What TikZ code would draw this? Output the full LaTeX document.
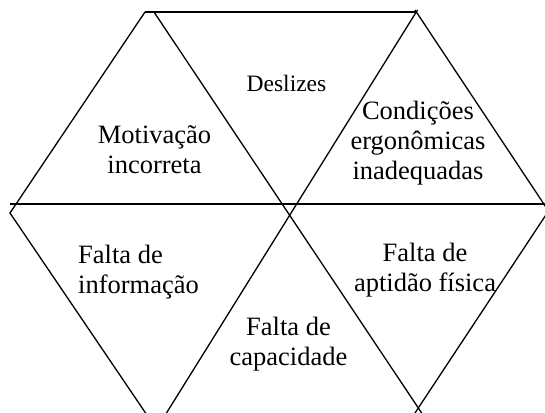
\documentclass[tikz,border=0pt]{standalone}
\usepackage{fontspec}
\setmainfont{Liberation Serif}
\begin{document}
\begin{tikzpicture}[x=1pt,y=-1pt,
  edge/.style={line width=1.3pt, black},
  lab/.style={inner sep=0pt, font=\fontsize{26.5}{30}\selectfont, align=center, anchor=base},
  smalllab/.style={inner sep=0pt, font=\fontsize{23.5}{27}\selectfont, anchor=base}]
\useasboundingbox (0,0) rectangle (545,412);
\clip (0,0) rectangle (545,412);
% vertices
\coordinate (tl1) at (145,12);
\coordinate (tl2) at (154,12);
\coordinate (tr)  at (416.5,12);
\coordinate (trA) at (417.5,10);
\coordinate (trB) at (415,10);
\coordinate (lv)  at (10,213);
\coordinate (rv)  at (548.5,211);
\coordinate (bl)  at (151,421);
\coordinate (blA) at (159,425);
\coordinate (brA) at (425,418);
\coordinate (brB) at (411,419);
\coordinate (hl)  at (10,204);
\coordinate (hr)  at (545,204);
% lines
\draw[edge] (tl1) -- (tr);
\draw[edge] (hl) -- (hr);
\draw[edge] (tl1) -- (lv) -- (bl);
\draw[edge] (tl2) -- (brA);
\draw[edge] (trA) -- (blA);
\draw[edge] (trB) -- (rv) -- (brB);
% labels (base anchor = baseline of the last line)
\node[smalllab] (desl) at (286.5,91.7) {Deslizes};
\node[lab] (motiv) at (154.5,173.3) {Motivação\\incorreta};
\node[lab] (cond) at (418,179.3) {Condições\\ergonômicas\\inadequadas};
\node[lab, align=left, anchor=base west] (info) at (78,293.3) {Falta de\\informação};
\node[lab] (capac) at (288.5,365) {Falta de\\capacidade};
\node[lab] (aptid) at (425,291.7) {Falta de\\aptidão física};
\end{tikzpicture}
\end{document}
